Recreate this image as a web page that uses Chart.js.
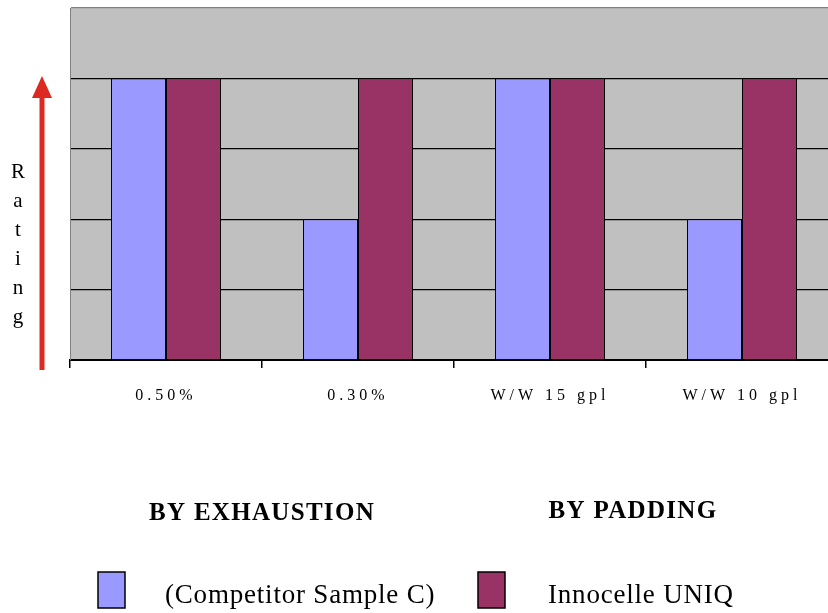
<!DOCTYPE html>
<html>
<head>
<meta charset="utf-8">
<script src="https://cdn.jsdelivr.net/npm/chart.js@4"></script>
<style>
    html, body { margin: 0; padding: 0; background: #fff; }
    #wrap { width: 828px; height: 613px; overflow: hidden; position: relative; }
</style>
</head>
<body>
<div id="wrap"><canvas id="ratingChart" width="838" height="613"></canvas></div>
<script>
const categories = ['0.50%', '0.30%', 'W/W 15 gpl', 'W/W 10 gpl'];
const competitorValues = [4, 2, 4, 2];
const innocelleValues = [4, 4, 4, 4];
const seriesNames = ['(Competitor Sample C)', 'Innocelle UNIQ'];
const seriesColors = ['#9999ff', '#993366'];
const groupTitles = ['BY EXHAUSTION', 'BY PADDING'];
const axisTitle = 'Rating';
const yMax = 5;

const serif = "'Liberation Serif', 'DejaVu Serif', serif";

const decorations = {
    id: 'decorations',
    beforeDraw: (chart) => {
        const { ctx, chartArea } = chart;
        ctx.save();
        ctx.fillStyle = '#c0c0c0';
        ctx.fillRect(chartArea.left, chartArea.top, chartArea.right - chartArea.left, chartArea.bottom - chartArea.top);
        ctx.restore();
        // spaced-out category labels, like the original
        ctx.letterSpacing = '4px';
    },
    afterDraw: (chart) => {
        const { ctx } = chart;
        ctx.save();
        ctx.letterSpacing = '0px';
        ctx.fillStyle = '#000';

        // stacked axis title
        ctx.font = '21px ' + serif;
        ctx.textAlign = 'center';
        ctx.textBaseline = 'middle';
        [...axisTitle].forEach((ch, i) => ctx.fillText(ch, 18, 172 + i * 29));

        // red arrow
        ctx.strokeStyle = '#dc2a22';
        ctx.fillStyle = '#dc2a22';
        ctx.lineWidth = 5;
        ctx.beginPath();
        ctx.moveTo(42, 370);
        ctx.lineTo(42, 95);
        ctx.stroke();
        ctx.beginPath();
        ctx.moveTo(42, 76);
        ctx.lineTo(52, 98);
        ctx.lineTo(32, 98);
        ctx.closePath();
        ctx.fill();

        // group titles
        ctx.fillStyle = '#000';
        ctx.letterSpacing = '1.3px';
        ctx.font = 'bold 25px ' + serif;
        ctx.fillText(groupTitles[0], 262, 514);
        ctx.fillText(groupTitles[1], 633, 512);

        // legend
        const boxX = [98, 478];
        const textX = [165, 548];
        ctx.letterSpacing = '0.8px';
        ctx.font = '27px ' + serif;
        ctx.textAlign = 'left';
        chart.data.datasets.forEach((ds, i) => {
            ctx.fillStyle = ds.backgroundColor;
            ctx.fillRect(boxX[i], 572, 27, 36);
            ctx.strokeStyle = '#000';
            ctx.lineWidth = 1.5;
            ctx.strokeRect(boxX[i], 572, 27, 36);
            ctx.fillStyle = '#000';
            ctx.fillText(ds.label, textX[i], 596);
        });
        ctx.restore();
    }
};

const ctx = document.getElementById('ratingChart').getContext('2d');
new Chart(ctx, {
    type: 'bar',
    data: {
        labels: categories,
        datasets: [
            {
                label: seriesNames[0],
                data: competitorValues,
                backgroundColor: seriesColors[0],
                borderColor: '#000',
                borderWidth: 1,
            },
            {
                label: seriesNames[1],
                data: innocelleValues,
                backgroundColor: seriesColors[1],
                borderColor: '#000',
                borderWidth: 1,
            },
        ],
    },
    options: {
        responsive: false,
        animation: false,
        layout: { padding: { left: 70, top: 8, right: 0, bottom: 0 } },
        datasets: {
            bar: { barPercentage: 1, categoryPercentage: 0.573 }
        },
        plugins: {
            legend: { display: false },
            tooltip: { enabled: false },
        },
        scales: {
            x: {
                afterFit: (scale) => { scale.height = 253; },
                grid: {
                    drawOnChartArea: false,
                    drawTicks: true,
                    tickLength: 8,
                    color: '#000',
                    lineWidth: 1.5,
                },
                border: { display: true, color: '#000', width: 2 },
                ticks: {
                    color: '#000',
                    padding: 18,
                    font: { family: serif, size: 16 },
                },
            },
            y: {
                min: 0,
                max: yMax,
                afterFit: (scale) => { scale.width = 0; },
                ticks: { display: false, stepSize: 1 },
                grid: {
                    drawTicks: false,
                    color: (c) => (c.tick && c.tick.value === yMax ? '#808080' : '#000'),
                    lineWidth: 1.3,
                },
                border: { display: true, color: '#808080', width: 1 },
            },
        },
    },
    plugins: [decorations],
});
</script>
</body>
</html>
